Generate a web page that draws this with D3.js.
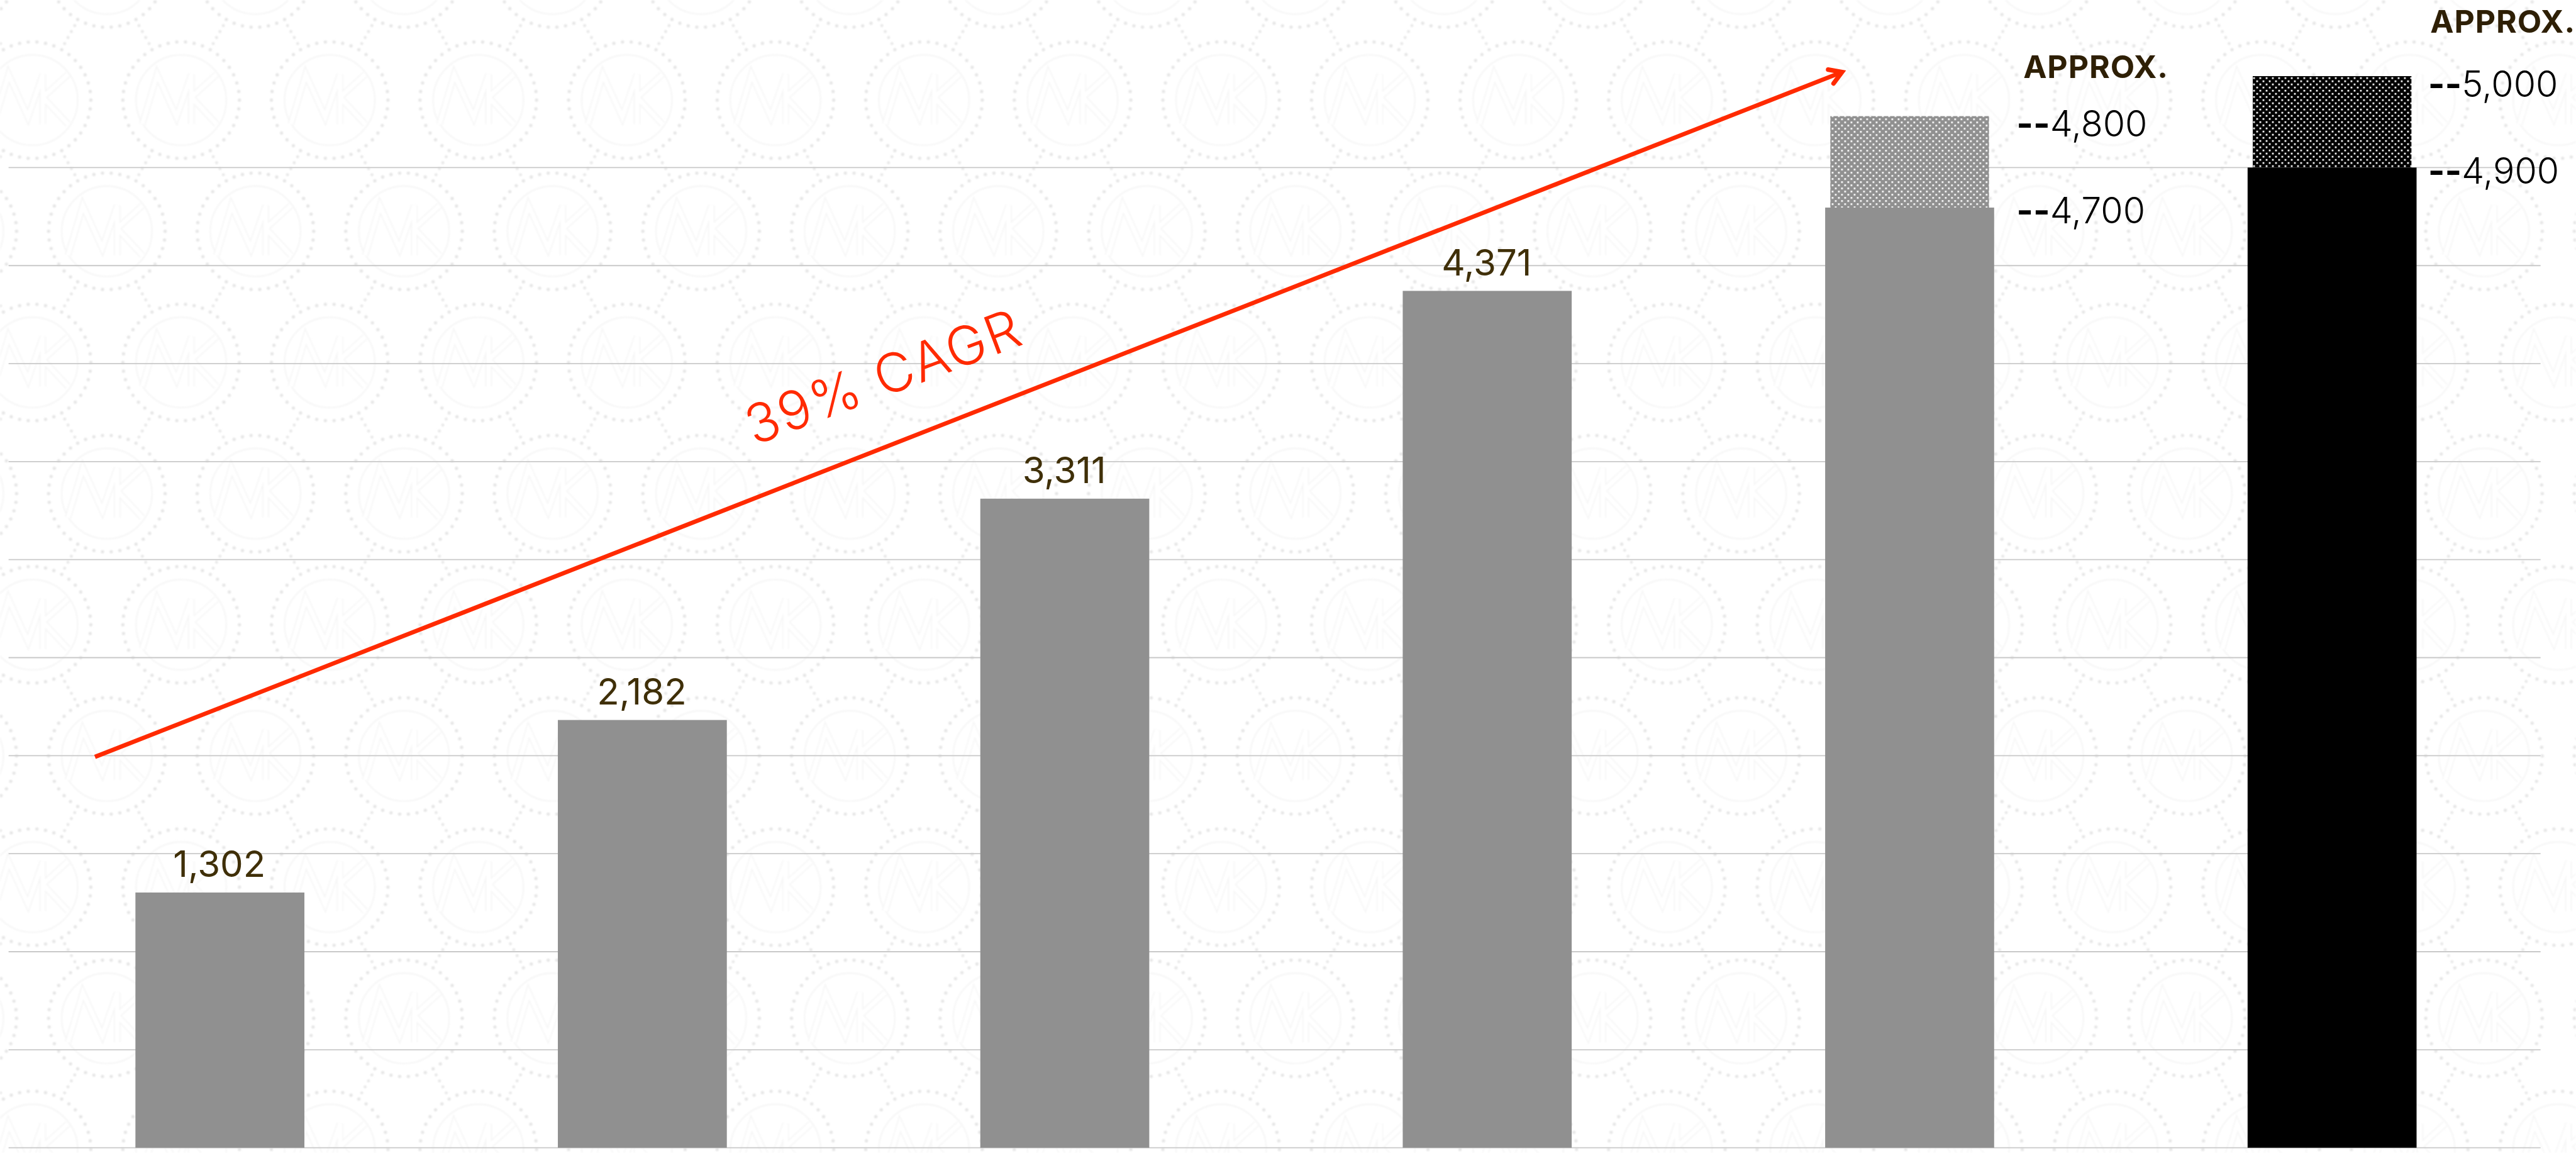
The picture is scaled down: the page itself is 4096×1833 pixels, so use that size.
<!DOCTYPE html>
<html>
<head>
<meta charset="utf-8">
<script src="https://cdn.jsdelivr.net/npm/d3@7/dist/d3.min.js"></script>
<style>
  html, body { margin: 0; padding: 0; background: #fff; }
  svg { display: block; }
  text { font-family: Inter, "Noto Sans", sans-serif; }
</style>
</head>
<body>
<div id="chart"></div>
<script>
// Bars, oldest to newest
const periods = ["P1", "P2", "P3", "P4", "P5", "P6"];
const values = [1302, 2182, 3311, 4371, 4700, 4900];
const valueLabels = ["1,302", "2,182", "3,311", "4,371"];
const barColors = ["#909090", "#909090", "#909090", "#909090", "#909090", "#000000"];

// Estimated range sitting on top of the last two bars
const rangePeriods = ["P5", "P6"];
const rangeLow = [4700, 4900];
const rangeHigh = [4800, 5000];
const rangeLowLabels = ["4,700", "4,900"];
const rangeHighLabels = ["4,800", "5,000"];
const rangeHeading = "APPROX.";
const rangeHeadingY = [136, 57];

// Growth arrow, in bar index and value terms
const trendIndex = [-0.296, 3.84];
const trendValue = [1994, 5487];
const trendLabel = "39% CAGR";

const gridTicks = d3.range(0, 5001, 500);

const W = 4508, H = 2017;
const svg = d3.select("#chart").append("svg")
  .attr("width", 4096).attr("height", 1833)
  .attr("viewBox", `0 0 ${W} ${H}`);
const defs = svg.append("defs");

const x = d3.scaleBand().domain(periods).range([237, 4229]).paddingInner(0.6);
const xIndex = d3.scaleLinear().domain([0, 5]).range([385, 4081]);
const gridY = d3.scaleLinear().domain([0, 5000]).range([2008, 293]);
// The last two bars step away from the grid scale at the top end
const y = d3.scaleLinear().domain([0, 4371, 4700, 4900]).range([2008, gridY(4371), 363, 293]);
const rangeH = d3.scaleLinear().domain([0, 100]).range([0, 160]);

// Repeating monogram watermark: a dotted ring, a thin inner ring and linking dots
const tileW = 260, tileH = 459, ringR = 102;
const tile = defs.append("pattern").attr("id", "mark")
  .attr("patternUnits", "userSpaceOnUse")
  .attr("x", -73).attr("y", 60).attr("width", tileW).attr("height", tileH);
const centres = [];
d3.range(-1, 3).forEach(row => {
  d3.range(-1, 3).forEach(col => {
    centres.push({
      cx: 130 + col * tileW + (row % 2 ? tileW / 2 : 0),
      cy: 115 + row * tileH / 2,
      row
    });
  });
});
const monogram = "M-68,42 L-42,-45 L-8,30 L18,-45 L18,42 M18,-5 L62,-45 M18,-5 L62,42";
centres.forEach(c => {
  const g = tile.append("g").attr("transform", `translate(${c.cx},${c.cy})`);
  g.selectAll("circle.ringDot").data(d3.range(42)).join("circle")
    .attr("class", "ringDot")
    .attr("cx", i => ringR * Math.cos(i / 42 * 2 * Math.PI))
    .attr("cy", i => ringR * Math.sin(i / 42 * 2 * Math.PI))
    .attr("r", 2.9).attr("fill", "#e6e6e6");
  g.append("circle").attr("r", 79).attr("fill", "none")
    .attr("stroke", "#f6f6f6").attr("stroke-width", 2.6);
  g.append("path").attr("d", monogram).attr("fill", "none")
    .attr("stroke", "#f6f6f6").attr("stroke-width", 12);
  g.append("path").attr("d", monogram).attr("fill", "none")
    .attr("stroke", "#ffffff").attr("stroke-width", 8);
  // Short dotted links to the two rings on the row below
  [-1, 1].forEach(side => {
    const dx = side * tileW / 2, dy = tileH / 2, len = Math.hypot(dx, dy);
    [114, 126, 138, 150].forEach(d => {
      g.append("circle").attr("cx", dx / len * d).attr("cy", dy / len * d)
        .attr("r", 2.7).attr("fill", "#e8e8e8");
    });
  });
});
const soften = defs.append("filter").attr("id", "soft")
  .attr("x", 0).attr("y", 0).attr("width", 1).attr("height", 1);
soften.append("feGaussianBlur").attr("stdDeviation", 0.9);

svg.append("rect").attr("width", W).attr("height", H).attr("fill", "#fff");
svg.append("rect").attr("width", W).attr("height", H)
  .attr("fill", "url(#mark)").attr("filter", "url(#soft)");

// Horizontal grid
svg.append("g").selectAll("line").data(gridTicks).join("line")
  .attr("x1", 15).attr("x2", 4446)
  .attr("y1", d => gridY(d)).attr("y2", d => gridY(d))
  .attr("stroke", "#c9c9c9").attr("stroke-width", 2);

// Dot screens for the estimated ranges
const screens = [
  { id: "screenGrey", fill: "#909090", ox: 3211, oy: 207 },
  { id: "screenBlack", fill: "#000000", ox: 3943, oy: 135 }
];
screens.forEach(s => {
  const p = defs.append("pattern").attr("id", s.id)
    .attr("patternUnits", "userSpaceOnUse")
    .attr("x", s.ox).attr("y", s.oy).attr("width", 11).attr("height", 11);
  p.append("rect").attr("width", 11).attr("height", 11).attr("fill", s.fill);
  p.append("rect").attr("x", 0).attr("y", 0).attr("width", 3).attr("height", 3).attr("fill", "#fff");
  p.append("rect").attr("x", 5.5).attr("y", 5.5).attr("width", 3).attr("height", 3).attr("fill", "#fff");
});

// Estimated range caps, slightly narrower than the bars beneath them
const capInset = 9;
svg.append("g").selectAll("rect").data(rangePeriods).join("rect")
  .attr("x", d => x(d) + capInset)
  .attr("width", x.bandwidth() - 2 * capInset)
  .attr("y", (d, i) => y(rangeLow[i]) - rangeH(rangeHigh[i] - rangeLow[i]))
  .attr("height", (d, i) => rangeH(rangeHigh[i] - rangeLow[i]))
  .attr("fill", (d, i) => `url(#${screens[i].id})`);

// Bars
svg.append("g").selectAll("rect").data(periods).join("rect")
  .attr("x", d => x(d))
  .attr("width", x.bandwidth())
  .attr("y", (d, i) => y(values[i]))
  .attr("height", (d, i) => y(0) - y(values[i]))
  .attr("fill", (d, i) => barColors[i]);

// Value labels above the first four bars
svg.append("g").selectAll("text").data(valueLabels).join("text")
  .attr("x", (d, i) => x(periods[i]) + x.bandwidth() / 2 - 1)
  .attr("y", (d, i) => y(values[i]) - 27)
  .attr("text-anchor", "middle")
  .attr("font-size", 64).attr("font-weight", 400)
  .attr("fill", "#3f2f08")
  .text(d => d);

// Range labels beside the last two bars, each led by a heavy double dash
const labelGap = 39;
const labelX = i => x(rangePeriods[i]) + x.bandwidth() + labelGap - (i ? 19 : 0);
function rangeLabels(labels, yOf) {
  const t = svg.append("g").selectAll("text").data(labels).join("text")
    .attr("x", (d, i) => labelX(i))
    .attr("y", (d, i) => yOf(i))
    .attr("font-size", 63).attr("font-weight", 300).attr("fill", "#000");
  t.append("tspan").attr("font-weight", 700).text("--");
  t.append("tspan").text(d => d);
}
rangeLabels(rangeHighLabels, i => y(rangeLow[i]) - rangeH(rangeHigh[i] - rangeLow[i]) + 36);
rangeLabels(rangeLowLabels, i => y(rangeLow[i]) + 28);
svg.append("g").selectAll("text").data(rangePeriods).join("text")
  .attr("x", (d, i) => labelX(i) + (i ? 4 : 12))
  .attr("y", (d, i) => rangeHeadingY[i])
  .attr("font-size", 55).attr("font-weight", 700).attr("letter-spacing", 1).attr("fill", "#2e1f05")
  .text(rangeHeading);

// Growth arrow and its label
const red = "#ff2a00";
const head = defs.append("marker").attr("id", "arrowHead")
  .attr("markerUnits", "userSpaceOnUse").attr("orient", "auto")
  .attr("viewBox", "-40 -30 60 60").attr("markerWidth", 60).attr("markerHeight", 60)
  .attr("refX", 0).attr("refY", 0);
head.append("path").attr("d", "M-21,-13 L0,0 L-21,13").attr("fill", "none")
  .attr("stroke", red).attr("stroke-width", 8)
  .attr("stroke-linecap", "round").attr("stroke-linejoin", "miter").attr("stroke-miterlimit", 10);

const trendLine = d3.line().x(d => xIndex(d[0])).y(d => gridY(d[1]));
svg.append("path")
  .attr("d", trendLine(d3.zip(trendIndex, trendValue)))
  .attr("fill", "none").attr("stroke", red).attr("stroke-width", 7.5)
  .attr("marker-end", "url(#arrowHead)");

svg.append("text")
  .attr("transform", "translate(1558,690) rotate(-20.6)")
  .attr("text-anchor", "middle")
  .attr("font-size", 94).attr("font-weight", 300).attr("letter-spacing", 3)
  .attr("fill", red)
  .text(trendLabel);
</script>
</body>
</html>
